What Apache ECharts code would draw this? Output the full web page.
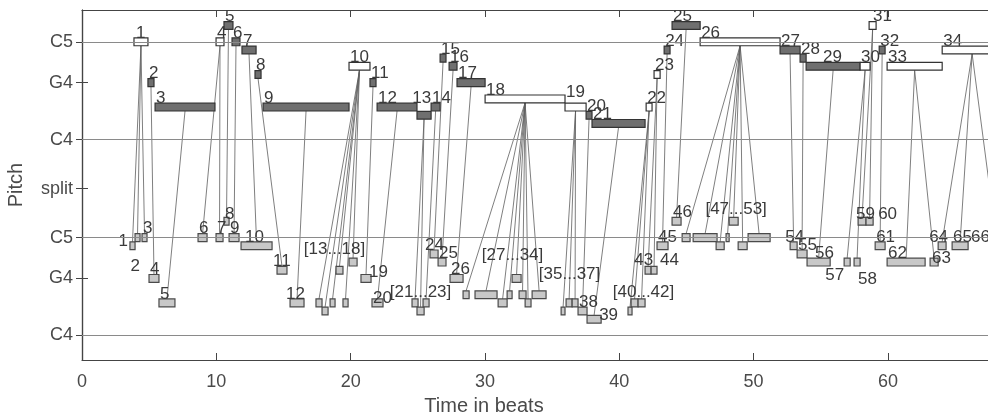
<!DOCTYPE html>
<html><head><meta charset="utf-8">
<script src="https://cdn.jsdelivr.net/npm/echarts@6/dist/echarts.min.js"></script>
<style>html,body{margin:0;padding:0;background:#fff}#c{width:988px;height:416px}</style>
</head><body><div id="c"></div>
<script>
// ---------- data (beats / MIDI pitch) ----------
const upperStart=[3.87,4.91,5.44,9.98,10.57,11.17,11.91,12.88,13.48,19.88,21.44,21.97,24.94,25.99,26.66,27.33,27.92,30.01,35.96,37.53,37.97,42.0,42.59,43.34,43.93,46.02,51.97,53.46,53.91,57.93,58.60,59.35,59.94,64.04];
const upperEnd=[4.91,5.36,9.90,10.57,11.24,11.76,12.96,13.33,19.88,21.44,21.89,24.94,25.99,26.66,27.10,27.92,30.01,35.96,37.53,37.97,41.92,42.44,43.04,43.78,46.02,51.97,53.46,53.91,57.93,58.67,59.12,59.79,64.04,68.5];
const upperPitch=[72,67,64,72,74,72,71,68,64,69,67,64,63,64,70,69,67,65,64,63,62,64,68,71,74,72,71,70,69,69,74,71,69,71];
const upperHollow=[1,0,0,1,0,0,0,0,0,1,0,0,0,0,0,0,0,1,1,0,0,1,1,0,0,1,0,0,0,1,1,0,1,1];

const lowerStart=[3.57,3.95,4.47,4.99,5.73,8.64,9.98,10.57,10.95,11.84,14.52,15.49,17.42,17.87,18.47,18.91,19.43,19.88,20.77,21.59,24.57,24.94,25.39,25.91,26.51,27.40,28.37,29.26,30.98,31.65,32.02,32.54,32.99,33.51,35.67,36.04,36.49,36.93,37.60,40.65,40.88,41.40,41.92,42.37,42.81,43.93,44.68,45.50,47.21,47.95,48.18,48.85,49.59,52.72,53.24,53.98,56.74,57.48,57.78,58.37,59.05,59.94,63.14,63.74,64.78,67.6];
const lowerEnd=[3.95,4.32,4.84,5.73,6.92,9.31,10.50,10.95,11.69,14.15,15.26,16.53,17.87,18.32,18.84,19.43,19.81,20.48,21.52,22.41,25.02,25.47,25.84,26.51,27.10,28.37,28.82,30.90,31.65,32.02,32.69,33.06,33.43,34.55,35.96,36.49,36.93,37.60,38.65,40.95,41.40,41.92,42.37,42.81,43.63,44.60,45.27,47.28,47.81,48.18,48.85,49.52,51.23,53.24,53.98,55.70,57.19,57.93,58.37,58.90,59.79,62.77,63.74,64.33,65.97,68.6];
const lowerPitch=[71,72,72,67,64,72,72,74,72,71,68,64,64,63,64,68,64,69,67,64,64,63,64,70,69,67,65,65,64,65,67,65,64,65,63,64,64,63,62,63,64,64,68,68,71,74,72,72,71,72,74,71,72,71,70,69,69,69,74,74,71,69,69,71,71,71];
// index (1-based) of the upper note each lower note is aligned to
const lowerAlign=[1,1,1,2,3,4,4,5,6,7,8,9,10,10,10,10,10,10,11,12,13,13,14,15,16,17,18,18,18,18,18,18,18,18,19,19,19,20,21,22,22,22,23,23,24,25,26,26,26,26,26,26,26,27,28,29,30,30,31,31,32,33,33,34,34,34];
const lowerGroups=[[13,18],[21,23],[27,34],[35,37],[40,42],[47,53]];

const yTickValues=[72,67,60,54,48,43,36];
const yTickNames=['C5','G4','C4','split','C5','G4','C4'];
const gridValues=[72,60,48,36];
const xTickValues=[0,10,20,30,40,50,60];
const staffOffset=24;

// ---------- layout / style ----------
const FONT='"Liberation Sans", Arial, sans-serif';
const H=0.48;
const upperLabelLayout={1:{dx:2},13:{ax:'r',align:'right',dx:0,dy:-8},19:{dy:-6},29:{dx:17},31:{dx:4}};
const lowerLabelLayout={
  1:{ax:'l',align:'right',dx:-2,vy:'b',dy:-3},
  2:{ax:'r',align:'right',dx:0,vy:'b',dy:30},
  8:{dy:2},10:{dx:4},11:{dx:-4},12:{dx:-4},
  19:{ax:'r',align:'left',dx:-2,dy:3},
  20:{dy:4},24:{dx:-5},
  39:{ax:'r',align:'left',dx:-2,vy:'b',dy:-3},
  43:{ax:'r',align:'right',dx:2,dy:-1},
  44:{ax:'r',align:'left',dx:3,dy:-1},
  54:{dx:-5},56:{dx:8},
  57:{ax:'l',align:'right',dx:0,vy:'b',dy:14},
  58:{ax:'l',align:'left',dx:4,vy:'b',dy:18},
  59:{dx:-2,dy:2},
  60:{ax:'r',align:'left',dx:5,dy:2},
  63:{ax:'l',align:'left',dx:2,dy:5},
  64:{ax:'r',align:'right',dx:2},
  66:{ax:'l',align:'right',dx:0}
};
const groupLayout=[{dx:-2,gap:4},{dx:0,gap:2},{dx:8,gap:14},{dx:0,gap:20},{dx:7,gap:2},{dx:10,gap:3}];

function boxPx(api,s,e,p){
  const a=api.coord([s,p+H]), b=api.coord([e,p-H]);
  return {l:a[0],r:b[0],t:a[1],b:b[1]};
}
function labelEl(text,box,spec){
  spec=Object.assign({ax:'l',align:'left',dx:1,vy:'t',dy:0},spec||{});
  const x=(spec.ax==='l'?box.l:box.r)+spec.dx;
  const y=(spec.vy==='t'?box.t:box.b)+spec.dy+3.5;
  return {type:'text',x:x,y:y,z2:10,style:{text:text,font:'17px '+FONT,fill:'#3a3a3a',align:spec.align,verticalAlign:'bottom'}};
}

const inGroup=new Set();
lowerGroups.forEach(g=>{for(let i=g[0];i<=g[1];i++)inGroup.add(i);});

const upperData=upperStart.map((s,i)=>[s,upperEnd[i],upperPitch[i],upperHollow[i],i]);
const lowerData=lowerStart.map((s,i)=>[s,lowerEnd[i],lowerPitch[i]-staffOffset,2,i]);
const linkData=lowerStart.map((s,i)=>{
  const u=lowerAlign[i]-1;
  return [(s+lowerEnd[i])/2,lowerPitch[i]-staffOffset+H,(upperStart[u]+upperEnd[u])/2,upperPitch[u]-H];
});
const groupData=lowerGroups.map((g,gi)=>{
  let top=-Infinity;
  for(let i=g[0];i<=g[1];i++)top=Math.max(top,lowerPitch[i-1]-staffOffset);
  return [lowerStart[g[0]-1],lowerEnd[g[1]-1],top,gi];
});

function renderNote(params,api){
  const s=api.value(0),e=api.value(1),p=api.value(2),kind=api.value(3),idx=api.value(4);
  const box=boxPx(api,s,e,p);
  let fill,stroke;
  if(kind===2){fill='#c8c8c8';stroke='#4a4a4a';}
  else if(kind===1){fill='#ffffff';stroke='#333333';}
  else{fill='#6f6f6f';stroke='#333333';}
  const children=[{type:'rect',shape:{x:box.l,y:box.t,width:box.r-box.l,height:box.b-box.t},
    style:{fill:fill,stroke:stroke,lineWidth:1.2}}];
  const n=idx+1;
  if(kind===2){
    if(!inGroup.has(n))children.push(labelEl(String(n),box,lowerLabelLayout[n]));
  }else{
    children.push(labelEl(String(n),box,upperLabelLayout[n]));
  }
  return {type:'group',children:children};
}
function renderLink(params,api){
  const a=api.coord([api.value(0),api.value(1)]), b=api.coord([api.value(2),api.value(3)]);
  return {type:'line',shape:{x1:a[0],y1:a[1],x2:b[0],y2:b[1]},style:{stroke:'#5e5e5e',lineWidth:0.8}};
}
function renderGroup(params,api){
  const gi=api.value(3), L=groupLayout[gi];
  const a=api.coord([api.value(0),api.value(2)+H]), b=api.coord([api.value(1),api.value(2)]);
  const g=lowerGroups[gi];
  return {type:'text',x:(a[0]+b[0])/2+L.dx,y:a[1]-L.gap+3.5,
    style:{text:'['+g[0]+'...'+g[1]+']',font:'17px '+FONT,fill:'#3a3a3a',align:'center',verticalAlign:'bottom'}};
}

const chart=echarts.init(document.getElementById('c'),null,{renderer:'canvas'});
const axisCol='#444444';
chart.setOption({
  animation:false,
  backgroundColor:'#ffffff',
  grid:{left:82,right:-2,top:10,bottom:56,containLabel:false,outerBoundsMode:'none'},
  xAxis:[{
    type:'value',min:0,max:67.6,position:'bottom',
    axisLine:{lineStyle:{color:axisCol,width:1.2}},
    axisTick:{inside:true,length:7,customValues:xTickValues,lineStyle:{color:axisCol}},
    axisLabel:{customValues:xTickValues,color:'#4a4a4a',fontSize:18,fontFamily:FONT,margin:13},
    splitLine:{show:false},
    name:'Time in beats',nameLocation:'middle',nameGap:36,
    nameTextStyle:{color:'#4a4a4a',fontSize:20,fontFamily:FONT,padding:[0,104,0,0]}
  },{
    type:'value',min:0,max:67.6,position:'top',
    axisLine:{lineStyle:{color:axisCol,width:1.2}},
    axisTick:{inside:true,length:7,customValues:xTickValues,lineStyle:{color:axisCol}},
    axisLabel:{show:false},splitLine:{show:false}
  }],
  yAxis:[{
    type:'value',min:33,max:75.9,position:'left',
    axisLine:{show:true,lineStyle:{color:axisCol,width:1.2}},
    axisTick:{show:true,inside:true,length:6,customValues:yTickValues,lineStyle:{color:axisCol}},
    axisLabel:{customValues:yTickValues,color:'#4a4a4a',fontSize:18,fontFamily:FONT,margin:9,
      formatter:v=>{const k=yTickValues.indexOf(Math.round(v));return k>=0?yTickNames[k]:'';}},
    splitLine:{show:false},
    name:'Pitch',nameLocation:'middle',nameGap:56,
    nameTextStyle:{color:'#4a4a4a',fontSize:20,fontFamily:FONT}
  },{
    type:'value',min:33,max:75.9,position:'right',
    axisLine:{show:true,lineStyle:{color:axisCol,width:1.2}},
    axisTick:{show:true,inside:true,length:6,customValues:yTickValues,lineStyle:{color:axisCol}},
    axisLabel:{show:false},splitLine:{show:false}
  }],
  series:[{
    type:'custom',name:'links',renderItem:renderLink,data:linkData,clip:true,
    encode:{x:[0,2],y:[1,3]},silent:true,z:1,
    markLine:{silent:true,symbol:['none','none'],label:{show:false},
      lineStyle:{color:'#8a8a8a',width:1.2,type:'solid'},
      data:gridValues.map(v=>({yAxis:v}))}
  },{
    type:'custom',name:'lower',renderItem:renderNote,data:lowerData,clip:true,
    encode:{x:[0,1],y:2},silent:true,z:3
  },{
    type:'custom',name:'upper',renderItem:renderNote,data:upperData,clip:true,
    encode:{x:[0,1],y:2},silent:true,z:3
  },{
    type:'custom',name:'groups',renderItem:renderGroup,data:groupData,clip:true,
    encode:{x:[0,1],y:2},silent:true,z:4
  }]
});
</script></body></html>
